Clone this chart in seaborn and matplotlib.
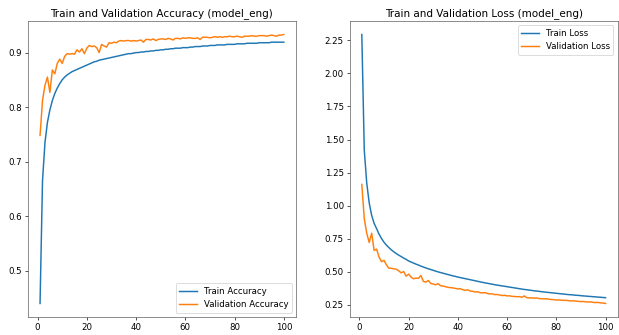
import seaborn as sns
import matplotlib.pyplot as plt
import numpy as np

epochs = np.arange(1, 101)

train_acc = [
    0.440, 0.665, 0.735, 0.772, 0.795, 0.812, 0.825, 0.835, 0.843, 0.850,
    0.855, 0.859, 0.862, 0.865, 0.867, 0.869, 0.871, 0.873, 0.875, 0.877,
    0.879, 0.881, 0.883, 0.884, 0.886, 0.887, 0.888, 0.889, 0.890, 0.891,
    0.892, 0.893, 0.894, 0.895, 0.896, 0.897, 0.898, 0.898, 0.899, 0.900,
    0.900, 0.901, 0.901, 0.902, 0.902, 0.903, 0.903, 0.904, 0.904, 0.905,
    0.905, 0.906, 0.906, 0.907, 0.907, 0.908, 0.908, 0.908, 0.909, 0.909,
    0.909, 0.910, 0.910, 0.911, 0.911, 0.911, 0.912, 0.912, 0.912, 0.913,
    0.913, 0.913, 0.914, 0.914, 0.914, 0.914, 0.915, 0.915, 0.915, 0.915,
    0.916, 0.916, 0.916, 0.916, 0.917, 0.917, 0.917, 0.917, 0.917, 0.918,
    0.918, 0.918, 0.918, 0.918, 0.919, 0.919, 0.919, 0.919, 0.919, 0.919,
]

val_acc = [
    0.748, 0.812, 0.840, 0.855, 0.827, 0.868, 0.861, 0.880, 0.888, 0.880,
    0.893, 0.898, 0.897, 0.898, 0.897, 0.905, 0.901, 0.907, 0.898, 0.908,
    0.913, 0.911, 0.912, 0.909, 0.900, 0.915, 0.912, 0.910, 0.918, 0.917,
    0.919, 0.918, 0.921, 0.922, 0.921, 0.922, 0.922, 0.921, 0.922, 0.921,
    0.922, 0.923, 0.919, 0.924, 0.924, 0.923, 0.925, 0.922, 0.924, 0.925,
    0.925, 0.924, 0.926, 0.925, 0.923, 0.926, 0.926, 0.925, 0.927, 0.926,
    0.927, 0.927, 0.926, 0.926, 0.927, 0.924, 0.928, 0.928, 0.928, 0.927,
    0.928, 0.929, 0.928, 0.929, 0.928, 0.929, 0.929, 0.930, 0.929, 0.929,
    0.930, 0.929, 0.928, 0.930, 0.930, 0.930, 0.931, 0.930, 0.930, 0.931,
    0.931, 0.931, 0.930, 0.931, 0.932, 0.931, 0.930, 0.932, 0.932, 0.933,
]

train_loss = [
    2.295, 1.420, 1.170, 1.020, 0.925, 0.865, 0.825, 0.783, 0.750, 0.722,
    0.700, 0.681, 0.664, 0.649, 0.636, 0.624, 0.613, 0.602, 0.592, 0.580,
    0.572, 0.564, 0.556, 0.549, 0.541, 0.534, 0.527, 0.521, 0.515, 0.509,
    0.503, 0.497, 0.492, 0.487, 0.482, 0.477, 0.472, 0.467, 0.463, 0.458,
    0.454, 0.450, 0.446, 0.442, 0.438, 0.434, 0.430, 0.426, 0.422, 0.418,
    0.414, 0.411, 0.407, 0.404, 0.400, 0.397, 0.394, 0.391, 0.388, 0.385,
    0.382, 0.379, 0.376, 0.373, 0.370, 0.367, 0.364, 0.362, 0.359, 0.357,
    0.354, 0.352, 0.350, 0.347, 0.345, 0.343, 0.341, 0.339, 0.337, 0.335,
    0.333, 0.331, 0.329, 0.327, 0.325, 0.324, 0.322, 0.320, 0.319, 0.317,
    0.315, 0.314, 0.312, 0.311, 0.309, 0.308, 0.306, 0.305, 0.303, 0.302,
]

val_loss = [
    1.160, 0.900, 0.790, 0.720, 0.790, 0.660, 0.670, 0.610, 0.575, 0.585,
    0.550, 0.525, 0.525, 0.520, 0.518, 0.505, 0.490, 0.500, 0.465, 0.480,
    0.458, 0.445, 0.450, 0.448, 0.470, 0.425, 0.420, 0.432, 0.410, 0.405,
    0.400, 0.408, 0.392, 0.390, 0.385, 0.380, 0.378, 0.376, 0.372, 0.368,
    0.370, 0.362, 0.358, 0.362, 0.352, 0.350, 0.345, 0.347, 0.340, 0.338,
    0.340, 0.334, 0.330, 0.331, 0.325, 0.326, 0.322, 0.318, 0.320, 0.315,
    0.316, 0.312, 0.311, 0.309, 0.310, 0.305, 0.315, 0.302, 0.300, 0.301,
    0.298, 0.300, 0.295, 0.294, 0.293, 0.294, 0.290, 0.288, 0.287, 0.284,
    0.285, 0.283, 0.281, 0.282, 0.279, 0.277, 0.278, 0.276, 0.274, 0.272,
    0.273, 0.270, 0.269, 0.270, 0.266, 0.265, 0.266, 0.262, 0.261, 0.258,
]

blue = '#1f77b4'
orange = '#ff7f0e'

plt.rcParams['font.size'] = 10.6
plt.rcParams['axes.edgecolor'] = '#555555'

fig = plt.figure(figsize=(619 / 59, 335 / 59), dpi=59)
gs = fig.add_gridspec(1, 2, left=0.045, right=0.998, bottom=0.054, top=0.937, wspace=0.2)

# accuracy panel
ax1 = fig.add_subplot(gs[0, 0])
sns.lineplot(x=epochs, y=train_acc, color=blue, linewidth=1.8, label='Train Accuracy', ax=ax1)
sns.lineplot(x=epochs, y=val_acc, color=orange, linewidth=1.8, label='Validation Accuracy', ax=ax1)
ax1.set_title('Train and Validation Accuracy (model_eng)')
ax1.legend(loc='lower right')

# loss panel
ax2 = fig.add_subplot(gs[0, 1])
sns.lineplot(x=epochs, y=train_loss, color=blue, linewidth=1.8, label='Train Loss', ax=ax2)
sns.lineplot(x=epochs, y=val_loss, color=orange, linewidth=1.8, label='Validation Loss', ax=ax2)
ax2.set_title('Train and Validation Loss (model_eng)')
ax2.legend(loc='upper right')

fig.savefig('out.png', dpi=59)
